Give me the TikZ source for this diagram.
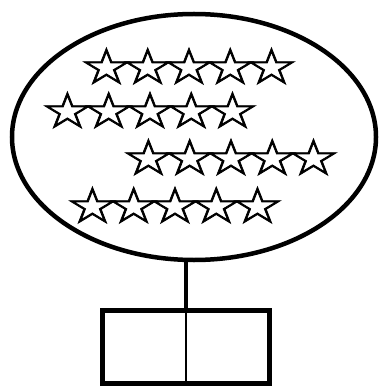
\documentclass[tikz,border=0pt]{standalone}
\usepackage{fontspec}
\newfontfamily\starfont[LetterSpace=-25, FakeBold=1.5, FakeStretch=1.2]{DejaVu Sans}
\usetikzlibrary{shapes.geometric}
\begin{document}
\begin{tikzpicture}[x=1pt, y=-1pt,
    starrow/.style={inner sep=0pt, font=\starfont\fontsize{50}{50}\selectfont}]
    \useasboundingbox (0,0) rectangle (379,390);
    % 椭圆
    \node[ellipse, draw, line width=4.5pt, minimum width=364pt, minimum height=246pt, inner sep=0pt] (oval) at (194,137) {};
    % 星星
    \node[starrow] (row1) at (189,66) {☆☆☆☆☆};
    \node[starrow] (row2) at (150,110) {☆☆☆☆☆};
    \node[starrow] (row3) at (231,157) {☆☆☆☆☆};
    \node[starrow] (row4) at (175,205) {☆☆☆☆☆};
    % 底部方框
    \node[draw, line width=5pt, minimum width=167pt, minimum height=72.5pt, inner sep=0pt] (box) at (186,347) {};
    \draw[line width=4pt] (box.north |- oval.south) -- (box.north);
    \draw[line width=1.2pt] (box.north) -- (box.south);
\end{tikzpicture}
\end{document}
